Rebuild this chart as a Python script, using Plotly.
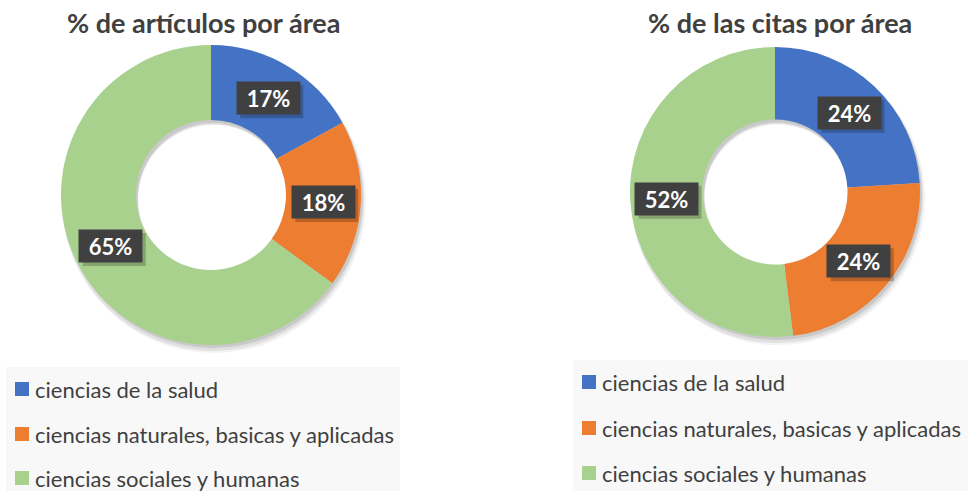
import math
import plotly.graph_objects as go

# ---------------- data ----------------
categories = ["ciencias de la salud",
              "ciencias naturales, basicas y aplicadas",
              "ciencias sociales y humanas"]
articulos_pct = [17, 18, 65]
citas_pct = [24, 24, 52]
titles = ["% de artículos por área", "% de las citas por área"]
colors = ["#4472C4", "#ED7D31", "#A9D18E"]

# ---------------- layout geometry ----------------
W, H = 972, 491
FONT = "Lato"
TXT = "#404040"

def px_x(x):
    return x / W

def px_y(y):
    return 1 - y / H

pies = [
    dict(values=articulos_pct, cx=211, cy=195, r=150, title=titles[0], tx=203, ty=22,
         legend_box=(6, 367, 400, 491), legend_rows=[389, 434, 478], sq_x=15, txt_x=33),
    dict(values=citas_pct, cx=775, cy=192, r=145, title=titles[1], tx=780, ty=22,
         legend_box=(573, 360, 968, 491), legend_rows=[382, 428, 473], sq_x=582, txt_x=600),
]
HOLE = 0.5

fig = go.Figure()
annotations = []
shapes = []

for p in pies:
    cx, cy, r = p["cx"], p["cy"], p["r"]
    # soft shadow rings
    for offx, offy, grow, a in [(3, 6, 2, 0.05), (2, 5, 1, 0.07), (2, 3, 0, 0.10)]:
        fig.add_trace(go.Pie(
            values=[1], labels=["s"], hole=HOLE, sort=False,
            marker=dict(colors=[f"rgba(0,0,0,{a})"], line=dict(width=0)),
            textinfo="none", hoverinfo="skip", showlegend=False,
            domain=dict(x=[px_x(cx - r + offx - grow), px_x(cx + r + offx + grow)],
                        y=[px_y(cy + r + offy + grow), px_y(cy - r + offy - grow)]),
        ))
    fig.add_trace(go.Pie(
        values=p["values"], labels=categories, hole=HOLE, sort=False,
        direction="clockwise", rotation=0,
        marker=dict(colors=colors, line=dict(width=0)),
        textinfo="none", showlegend=False,
        domain=dict(x=[px_x(cx - r), px_x(cx + r)], y=[px_y(cy + r), px_y(cy - r)]),
    ))
    # title
    annotations.append(dict(text=f"<b>{p['title']}</b>", x=px_x(p["tx"]), y=px_y(p["ty"]),
                            xref="paper", yref="paper", showarrow=False,
                            xanchor="center", yanchor="middle",
                            font=dict(family=FONT, size=27, color=TXT)))
    # data labels at ring middle
    total = sum(p["values"])
    cum = 0
    for v in p["values"]:
        mid = (cum + v / 2) / total * 2 * math.pi
        cum += v
        rr = r * (1 + HOLE) / 2
        lx = cx + rr * math.sin(mid)
        ly = cy - rr * math.cos(mid)
        label = f"<b>{round(v / total * 100)}%</b>"
        # shadow as pixel-sized shape
        shapes.append(dict(type="rect", xref="paper", yref="paper",
                           xsizemode="pixel", ysizemode="pixel",
                           xanchor=px_x(lx), yanchor=px_y(ly),
                           x0=-31 + 3, x1=31 + 4, y0=-16 - 4, y1=16 - 3,
                           fillcolor="rgba(0,0,0,0.22)", line=dict(width=0)))
        annotations.append(dict(text=label, x=px_x(lx), y=px_y(ly), xref="paper", yref="paper",
                                xanchor="center", yanchor="middle",
                                showarrow=False, width=59, height=28, borderpad=2,
                                bgcolor="#404040",
                                font=dict(family=FONT, size=22, color="white")))
    # legend
    x0, y0, x1, y1 = p["legend_box"]
    shapes.append(dict(type="rect", xref="paper", yref="paper",
                       x0=px_x(x0), x1=px_x(x1), y0=px_y(y1), y1=px_y(y0),
                       fillcolor="#F8F8F8", line=dict(width=0), layer="below"))
    for cat, col, ry in zip(categories, colors, p["legend_rows"]):
        shapes.append(dict(type="rect", xref="paper", yref="paper",
                           x0=px_x(p["sq_x"]), x1=px_x(p["sq_x"] + 14),
                           y0=px_y(ry + 7), y1=px_y(ry - 7),
                           fillcolor=col, line=dict(width=0)))
        annotations.append(dict(text=cat, x=px_x(p["txt_x"]), y=px_y(ry), xref="paper", yref="paper",
                                xanchor="left", yanchor="middle", showarrow=False,
                                font=dict(family=FONT, size=22, color=TXT)))

fig.update_layout(
    width=W, height=H,
    margin=dict(l=0, r=0, t=0, b=0),
    paper_bgcolor="white", plot_bgcolor="white",
    annotations=annotations, shapes=shapes,
    showlegend=False,
)

fig.write_html("out.html", config={"displayModeBar": False},
               post_script="document.body.style.margin='0';document.body.style.overflow='hidden';")
